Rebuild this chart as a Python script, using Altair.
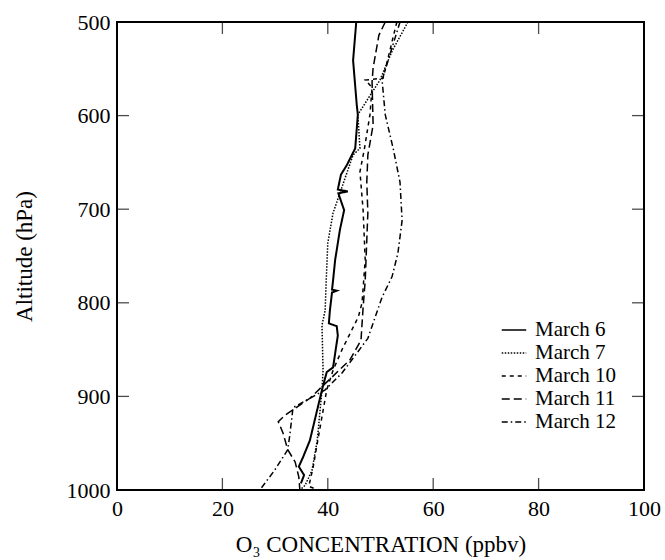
import altair as alt
import pandas as pd

# ---- data (pressure hPa, O3 ppbv) ----
m6_p = [500, 541, 589, 599, 635, 653, 663, 679, 681, 683, 701, 722, 754, 776, 786, 787, 789, 808, 822, 825, 835, 869, 874, 893, 947, 965, 975, 984, 993]
m6_v = [45.4, 44.8, 45.5, 45.7, 45.2, 43.6, 42.5, 41.9, 43.8, 42.0, 43.1, 42.3, 41.4, 41.0, 40.8, 41.7, 40.8, 40.4, 40.2, 41.7, 41.9, 41.0, 39.8, 38.9, 36.6, 35.3, 34.5, 35.5, 34.9]

m7_p = [500, 531, 562, 584, 599, 635, 642, 704, 736, 776, 808, 824, 872, 893, 947, 979, 995, 1000]
m7_v = [55.2, 52.2, 49.9, 47.4, 45.7, 46.1, 44.8, 41.0, 40.0, 39.7, 39.5, 38.9, 39.1, 38.9, 38.0, 37.0, 35.7, 34.7]

m10_p = [500, 530, 560, 562, 570, 599, 637, 660, 701, 754, 800, 815, 850, 872, 893, 947, 976, 996, 1000]
m10_v = [53.1, 51.8, 50.5, 47.1, 48.4, 48.0, 46.9, 46.1, 46.7, 47.1, 46.5, 45.8, 42.7, 41.0, 39.8, 38.1, 37.2, 36.4, 38.1]

m11_p = [500, 514, 549, 564, 610, 642, 671, 704, 776, 805, 840, 861, 902, 920, 927, 939, 957, 970, 986, 1000]
m11_v = [50.9, 49.7, 48.6, 48.4, 48.6, 47.6, 47.4, 47.6, 47.1, 46.7, 46.3, 44.2, 36.6, 31.9, 30.6, 31.5, 32.4, 33.8, 34.5, 34.7]

m12_p = [500, 562, 599, 635, 671, 712, 747, 772, 794, 838, 875, 893, 912, 941, 957, 979, 1000]
m12_v = [53.7, 50.3, 50.9, 52.4, 53.7, 54.1, 53.3, 52.2, 50.3, 47.6, 42.7, 39.5, 33.4, 32.8, 32.4, 29.9, 27.1]

series = ["March 6", "March 7", "March 10", "March 11", "March 12"]
dash_styles = [[1, 0], [1.5, 1.5], [4, 4], [8, 4], [6, 3, 1.5, 3]]

x_ticks = [0, 20, 40, 60, 80, 100]
y_ticks = [500, 600, 700, 800, 900, 1000]

rows = []
for name, ps, vs in zip(series, [m6_p, m7_p, m10_p, m11_p, m12_p], [m6_v, m7_v, m10_v, m11_v, m12_v]):
    for i, (p, v) in enumerate(zip(ps, vs)):
        rows.append({"series": name, "p": p, "o3": v, "idx": i})
df = pd.DataFrame(rows)

W, H = 527, 468
FONT = "Liberation Serif"

xs = alt.Scale(domain=[0, 100], nice=False)
ys = alt.Scale(domain=[500, 1000], reverse=True, nice=False)

lines = alt.Chart(df).mark_line(color="black").encode(
    x=alt.X("o3:Q", scale=xs, axis=alt.Axis(values=x_ticks, title="O₃ CONCENTRATION (ppbv)", grid=False,
                                            ticks=False, domain=False, labelPadding=8, titlePadding=14,
                                            labelFlush=False, format="d")),
    y=alt.Y("p:Q", scale=ys, axis=alt.Axis(values=y_ticks, title="Altitude (hPa)", grid=False,
                                           ticks=False, domain=False, labelPadding=7, titlePadding=30,
                                           labelFlush=False, format="d")),
    detail="series:N",
    order="idx:Q",
    strokeDash=alt.StrokeDash("series:N", scale=alt.Scale(domain=series, range=dash_styles),
                              legend=alt.Legend(title=None, orient="none", legendX=384, legendY=295,
                                                symbolType="stroke", symbolSize=600, symbolStrokeColor="black",
                                                symbolStrokeWidth=1.5, labelFont=FONT, labelFontSize=21,
                                                labelColor="black", rowPadding=-4, labelOffset=8)),
    strokeWidth=alt.condition(alt.datum.series == "March 6", alt.value(2.0), alt.value(1.5)),
)

xt = pd.DataFrame({"v": x_ticks[1:-1]})
yt = pd.DataFrame({"v": y_ticks[1:-1]})

TK = 12
tb = alt.Chart(xt).mark_tick(color="black", size=TK, thickness=1.3, orient="vertical").encode(
    x=alt.X("v:Q", scale=xs), y=alt.value(H - TK / 2))
tt = alt.Chart(xt).mark_tick(color="black", size=TK, thickness=1.3, orient="vertical").encode(
    x=alt.X("v:Q", scale=xs), y=alt.value(TK / 2))
tl = alt.Chart(yt).mark_tick(color="black", size=TK, thickness=1.3, orient="horizontal").encode(
    y=alt.Y("v:Q", scale=ys), x=alt.value(TK / 2))
tr = alt.Chart(yt).mark_tick(color="black", size=TK, thickness=1.3, orient="horizontal").encode(
    y=alt.Y("v:Q", scale=ys), x=alt.value(W - TK / 2))

chart = alt.layer(lines, tb, tt, tl, tr).properties(
    width=W, height=H,
    background="white",
    autosize=alt.AutoSizeParams(type="none"),
    padding={"left": 117, "top": 22, "right": 21, "bottom": 70},
).configure_view(stroke="black", strokeWidth=2).configure_axis(
    labelFont=FONT, titleFont=FONT, labelFontSize=22, titleFontSize=23,
    labelColor="black", titleColor="black", titleFontWeight="normal"
)

chart.save("out.html", embed_options={"renderer": "svg", "actions": False})
